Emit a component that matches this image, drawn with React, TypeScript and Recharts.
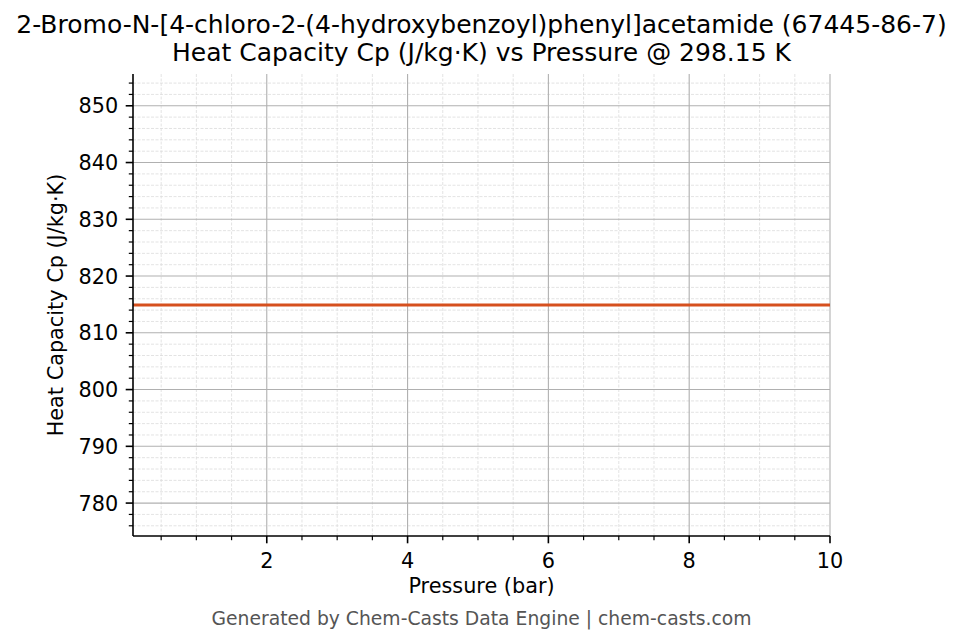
import React from "react";
import { LineChart, Line, XAxis, YAxis, ReferenceLine } from "recharts";

const pressures = [0.1, 1, 2, 3, 4, 5, 6, 7, 8, 9, 10];
const heatCapacity = [814.9, 814.9, 814.9, 814.9, 814.9, 814.9, 814.9, 814.9, 814.9, 814.9, 814.9];

const xMajorTicks = [2, 4, 6, 8, 10];
const xMinorTicks = [0.5, 1, 1.5, 2.5, 3, 3.5, 4.5, 5, 5.5, 6.5, 7, 7.5, 8.5, 9, 9.5];
const yMajorTicks = [780, 790, 800, 810, 820, 830, 840, 850];
const yMinorTicks = [
  776, 778, 782, 784, 786, 788, 792, 794, 796, 798, 802, 804, 806, 808, 812, 814, 816, 818,
  822, 824, 826, 828, 832, 834, 836, 838, 842, 844, 846, 848, 852, 854,
];
const xDomain = [0.1, 10];
const yDomain = [774.2, 855.6];

const titleLine1 = "2-Bromo-N-[4-chloro-2-(4-hydroxybenzoyl)phenyl]acetamide (67445-86-7)";
const titleLine2 = "Heat Capacity Cp (J/kg·K) vs Pressure @ 298.15 K";
const xLabel = "Pressure (bar)";
const yLabel = "Heat Capacity Cp (J/kg·K)";
const footer = "Generated by Chem-Casts Data Engine | chem-casts.com";

const data = pressures.map((p, i) => ({ p, cp: heatCapacity[i] }));

const FONT = "'DejaVu Sans', sans-serif";
const LINE_COLOR = "#d6501e";
const TICK_FS = 20.8;

const XTick = (props: any) => {
  const { x, y, payload } = props;
  const v = payload.value;
  const major = xMajorTicks.includes(v);
  return (
    <g>
      <line x1={x} x2={x} y1={y} y2={y + (major ? 7.3 : 4.2)} stroke="#000" strokeWidth={major ? 1.6 : 1.2} />
      {major && (
        <text x={x} y={y + 31.5} textAnchor="middle" fontSize={TICK_FS} fontFamily={FONT} fill="#000">
          {v}
        </text>
      )}
    </g>
  );
};

const YTick = (props: any) => {
  const { x, y, payload } = props;
  const v = payload.value;
  const major = yMajorTicks.includes(v);
  return (
    <g>
      <line x1={x} x2={x - (major ? 7.3 : 4.2)} y1={y} y2={y} stroke="#000" strokeWidth={major ? 1.6 : 1.2} />
      {major && (
        <text x={x - 14.8} y={y + 7.6} textAnchor="end" fontSize={TICK_FS} fontFamily={FONT} fill="#000">
          {v}
        </text>
      )}
    </g>
  );
};

export default function App() {
  const xAllTicks = [...xMinorTicks, ...xMajorTicks].sort((a, b) => a - b);
  const yAllTicks = [...yMinorTicks, ...yMajorTicks].sort((a, b) => a - b);
  return (
    <div style={{ position: "absolute", left: 0, top: 0, width: 962, height: 644, background: "#fff" }}>
      <LineChart width={962} height={644} data={data} margin={{ top: 74, right: 132, left: 0, bottom: 0 }}>
        <XAxis
          dataKey="p"
          type="number"
          domain={xDomain}
          allowDataOverflow
          ticks={xAllTicks}
          interval={0}
          height={108}
          tickSize={0}
          tickMargin={0}
          tickLine={false}
          tick={<XTick />}
          axisLine={{ stroke: "#000", strokeWidth: 1.6 }}
        />
        <XAxis
          xAxisId="top"
          orientation="top"
          type="number"
          domain={xDomain}
          allowDataOverflow
          height={0}
          tick={false}
          tickLine={false}
          axisLine={{ stroke: "#000", strokeWidth: 1.6 }}
        />
        <YAxis
          type="number"
          domain={yDomain}
          allowDataOverflow
          ticks={yAllTicks}
          interval={0}
          width={133}
          tickSize={0}
          tickMargin={0}
          tickLine={false}
          tick={<YTick />}
          axisLine={{ stroke: "#000", strokeWidth: 1.6 }}
        />
        <YAxis
          yAxisId="right"
          orientation="right"
          type="number"
          domain={yDomain}
          allowDataOverflow
          width={0}
          tick={false}
          tickLine={false}
          axisLine={{ stroke: "#000", strokeWidth: 1.6 }}
        />
        {xMinorTicks.map((v) => (
          <ReferenceLine key={"xm" + v} x={v} stroke="#dcdcdc" strokeWidth={0.8} strokeDasharray="3 1.5" />
        ))}
        {yMinorTicks.map((v) => (
          <ReferenceLine key={"ym" + v} y={v} stroke="#dcdcdc" strokeWidth={0.8} strokeDasharray="3 1.5" />
        ))}
        {xMajorTicks.map((v) => (
          <ReferenceLine key={"xM" + v} x={v} stroke="#b0b0b0" strokeWidth={1.1} />
        ))}
        {yMajorTicks.map((v) => (
          <ReferenceLine key={"yM" + v} y={v} stroke="#b0b0b0" strokeWidth={1.1} />
        ))}
        <Line
          type="linear"
          dataKey="cp"
          stroke={LINE_COLOR}
          strokeWidth={3.1}
          dot={false}
          isAnimationActive={false}
        />
      </LineChart>
      <svg
        width={962}
        height={644}
        style={{ position: "absolute", left: 0, top: 0, pointerEvents: "none" }}
      >
        <text x={481.5} y={33} textAnchor="middle" fontSize={25} fontFamily={FONT} fill="#000">
          {titleLine1}
        </text>
        <text x={481.5} y={61} textAnchor="middle" fontSize={25} fontFamily={FONT} fill="#000">
          {titleLine2}
        </text>
        <text x={481.5} y={593} textAnchor="middle" fontSize={TICK_FS} fontFamily={FONT} fill="#000">
          {xLabel}
        </text>
        <text
          x={63}
          y={305}
          textAnchor="middle"
          fontSize={TICK_FS}
          fontFamily={FONT}
          fill="#000"
          transform="rotate(-90 63 305)"
        >
          {yLabel}
        </text>
        <text x={481.5} y={625} textAnchor="middle" fontSize={18.75} fontFamily={FONT} fill="#555">
          {footer}
        </text>
      </svg>
    </div>
  );
}
